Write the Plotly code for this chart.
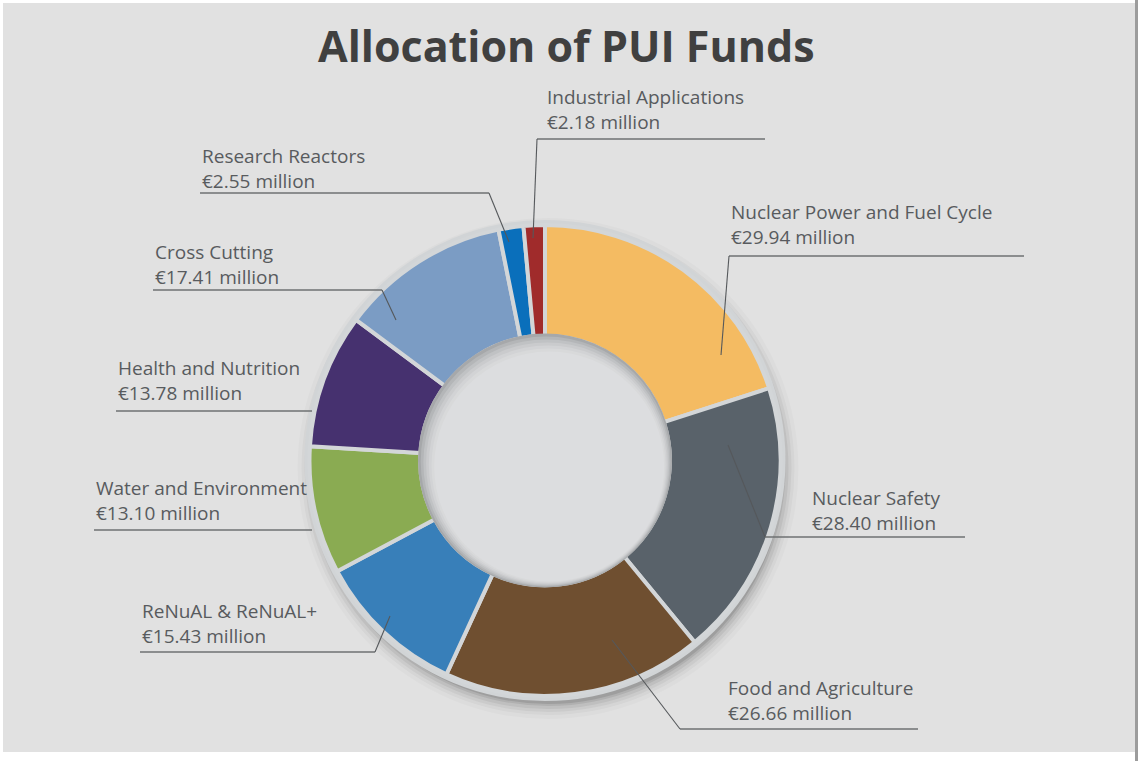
import plotly.graph_objects as go

# ---- data ----
categories = [
    "Nuclear Power and Fuel Cycle",
    "Nuclear Safety",
    "Food and Agriculture",
    "ReNuAL & ReNuAL+",
    "Water and Environment",
    "Health and Nutrition",
    "Cross Cutting",
    "Research Reactors",
    "Industrial Applications",
]
values_million_eur = [29.94, 28.40, 26.66, 15.43, 13.10, 13.78, 17.41, 2.55, 2.18]
colors = ["#f4bb62", "#59626a", "#6f4f30", "#387fb9", "#8aab52",
          "#46316f", "#7b9cc4", "#0a6fbb", "#a02b2b"]

# ---- layout helpers (pixel -> paper) ----
W, H = 1140, 761
def X(p): return p / W
def Y(p): return 1 - p / H

CX, CY, R = 545, 460.5, 235.5     # donut centre / radius in px
HOLE = 0.53
RH = 127                          # visible hole radius in px
BG = "#e1e1e1"
TXT = "#585b5e"
LINE = "#6e7072"

# label placements: text left/centre-y, underline (y, x0, x1), leader end (x, y) or None
label_layout = [
    dict(tx=729, ty=224.5, ly=256, lx0=729, lx1=1024, lead=(721, 355), lead_from="left"),
    dict(tx=810, ty=510.5, ly=537, lx0=765, lx1=965, lead=(728, 445), lead_from="left"),
    dict(tx=726, ty=700,   ly=729, lx0=680, lx1=918, lead=(612, 640), lead_from="left"),
    dict(tx=140, ty=623,   ly=652, lx0=140, lx1=375, lead=(390, 616), lead_from="right"),
    dict(tx=94,  ty=501,   ly=530, lx0=94,  lx1=312, lead=None, lead_from=None),
    dict(tx=116, ty=380.5, ly=411, lx0=116, lx1=312, lead=None, lead_from=None),
    dict(tx=153, ty=264,   ly=290, lx0=153, lx1=382, lead=(396, 320), lead_from="right"),
    dict(tx=200, ty=168.5, ly=193, lx0=200, lx1=489, lead=(509, 242), lead_from="right"),
    dict(tx=545, ty=109,   ly=139, lx0=537, lx1=765, lead=(533, 238), lead_from="left"),
]

fig = go.Figure()
fig.add_trace(go.Pie(
    labels=categories,
    values=values_million_eur,
    sort=False,
    direction="clockwise",
    rotation=0,
    hole=HOLE,
    marker=dict(colors=colors, line=dict(color="#d3d6d8", width=4)),
    textinfo="none",
    hoverinfo="label+value",
    showlegend=False,
    domain=dict(x=[X(CX - R), X(CX + R)], y=[Y(CY + R), Y(CY - R)]),
))

shapes = []
# frame
shapes.append(dict(type="rect", xref="paper", yref="paper", x0=X(3), x1=X(1135), y0=Y(3), y1=Y(752),
                   fillcolor=BG, line=dict(width=0), layer="below"))
shapes.append(dict(type="line", xref="paper", yref="paper", x0=X(1136.5), x1=X(1136.5), y0=0, y1=1,
                   line=dict(color="#9c9c9c", width=3), layer="below"))

def circle(cx, cy, r, fill, layer="below"):
    return dict(type="circle", xref="paper", yref="paper",
                x0=X(cx - r), x1=X(cx + r), y0=Y(cy + r), y1=Y(cy - r),
                fillcolor=fill, line=dict(width=0), layer=layer)

# soft outer shadow
for dr, a in [(20, 0.02), (16, 0.03), (13, 0.045), (10, 0.06), (7, 0.08), (5, 0.1)]:
    shapes.append(circle(CX + 3, CY + 8, R + dr - 5, f"rgba(0,0,0,{a})"))
# light ring around donut
shapes.append(circle(CX, CY, R + 5, "#d1d4d6"))

# hole with inset shadow (drawn above the slices to hide the inner separator)
hole_steps = [(0, "#a6a8aa"), (1, "#b4b6b8"), (2, "#c0c2c4"), (3, "#cacbcd"),
              (4, "#d2d3d5"), (5, "#d8d9da"), (6, "#dcdddf")]
for k, col in hole_steps:
    shapes.append(circle(CX + 0.7 * k, CY + 1.0 * k, RH - 2 * k, col, layer="above"))

annotations = []
for cat, v, L in zip(categories, values_million_eur, label_layout):
    annotations.append(dict(
        x=X(L["tx"]), y=Y(L["ty"]), xref="paper", yref="paper",
        xanchor="left", yanchor="middle", align="left", showarrow=False,
        text=f"{cat}<br>€{v:.2f} million",
        font=dict(family="Open Sans", size=19, color=TXT),
    ))
    shapes.append(dict(type="line", xref="paper", yref="paper",
                       x0=X(L["lx0"]), x1=X(L["lx1"]), y0=Y(L["ly"]), y1=Y(L["ly"]),
                       line=dict(color=LINE, width=1.6), layer="above"))
    if L["lead"]:
        sx = L["lx0"] if L["lead_from"] == "left" else L["lx1"]
        ex, ey = L["lead"]
        shapes.append(dict(type="line", xref="paper", yref="paper",
                           x0=X(sx), x1=X(ex), y0=Y(L["ly"]), y1=Y(ey),
                           line=dict(color="#55585b", width=1.1), layer="above"))

annotations.append(dict(
    x=X(566), y=Y(46), xref="paper", yref="paper", xanchor="center", yanchor="middle",
    showarrow=False, text="<b>Allocation of PUI Funds</b>",
    font=dict(family="Open Sans", size=43, color="#404040"),
))

fig.update_layout(
    width=W, height=H, autosize=False,
    margin=dict(l=0, r=0, t=0, b=0),
    paper_bgcolor="white",
    plot_bgcolor=BG,
    shapes=shapes,
    annotations=annotations,
)

fig.write_html("out.html", config={"displayModeBar": False},
               post_script="document.body.style.margin='0';document.body.style.overflow='hidden';")
